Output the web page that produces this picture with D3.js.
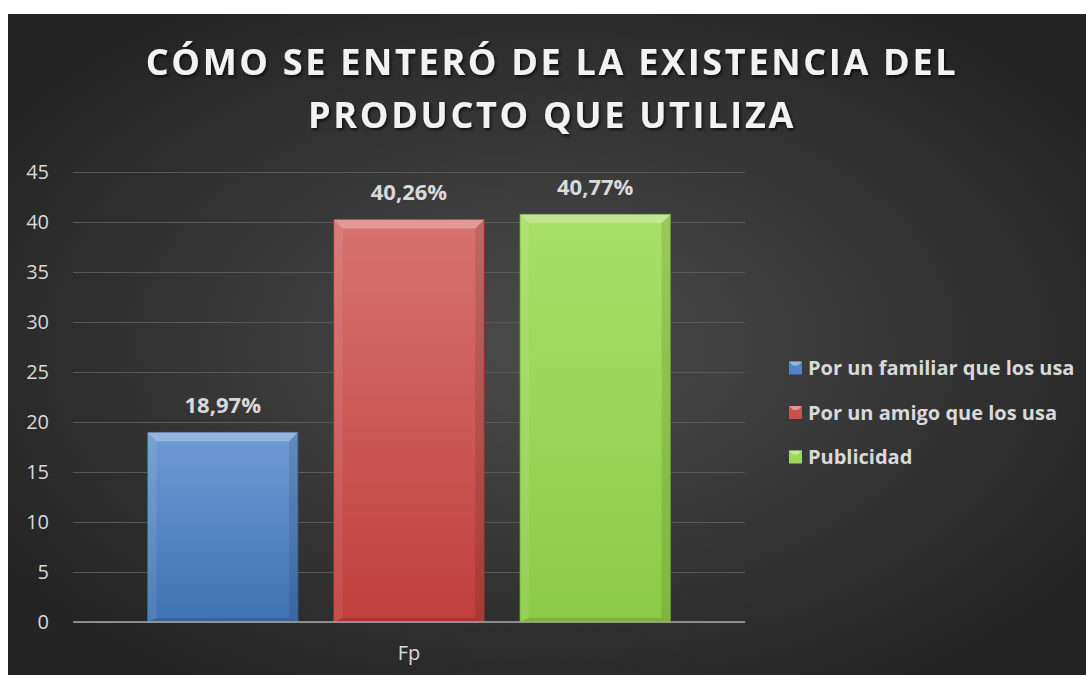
<!DOCTYPE html>
<html>
<head>
<meta charset="utf-8">
<script src="https://cdn.jsdelivr.net/npm/d3@7"></script>
<style>
body { margin: 0; background: #fff; }
svg { display: block; }
</style>
</head>
<body>
<script>
// data
var categories = ["Fp"];
var series = ["Por un familiar que los usa", "Por un amigo que los usa", "Publicidad"];
var values = [18.97, 40.26, 40.77];
var labels = ["18,97%", "40,26%", "40,77%"];
var yTicks = [0, 5, 10, 15, 20, 25, 30, 35, 40, 45];
var titleLines = ["CÓMO SE ENTERÓ DE LA EXISTENCIA DEL", "PRODUCTO QUE UTILIZA"];

var W = 1086, H = 675;
var margin = {left: 73, right: 341, top: 172, bottom: 53};
var colors = [
  {top: "#6f9bd3", mid: "#4f85c8", bot: "#3f72b4", edge: "#2f5f9c"},
  {top: "#d77370", mid: "#c9504d", bot: "#bf3f3c", edge: "#9c2f2d"},
  {top: "#a8e068", mid: "#9bd755", bot: "#8ccb47", edge: "#6fa232"}
];
var font = "'Open Sans', sans-serif";

var svg = d3.select("body").append("svg").attr("width", W).attr("height", H);
var defs = svg.append("defs");

// background gradient
var bg = defs.append("radialGradient").attr("id", "bg")
  .attr("cx", "0.5").attr("cy", "0.5").attr("r", "0.6");
bg.append("stop").attr("offset", "0%").attr("stop-color", "#4b4b4b");
bg.append("stop").attr("offset", "100%").attr("stop-color", "#242424");

colors.forEach(function (c, i) {
  var g = defs.append("linearGradient").attr("id", "bar" + i)
    .attr("x1", 0).attr("y1", 0).attr("x2", 0).attr("y2", 1);
  g.append("stop").attr("offset", "0%").attr("stop-color", c.top);
  g.append("stop").attr("offset", "100%").attr("stop-color", c.bot);
});

var shadow = defs.append("filter").attr("id", "tshadow").attr("x", "-10%").attr("y", "-20%").attr("width", "120%").attr("height", "150%");
shadow.append("feDropShadow").attr("dx", 1.5).attr("dy", 2).attr("stdDeviation", 1.5)
  .attr("flood-color", "#000").attr("flood-opacity", 0.7);

svg.append("rect").attr("x", 8).attr("y", 14).attr("width", W - 8).attr("height", H - 14)
  .attr("fill", "url(#bg)");

var x0 = d3.scaleBand().domain(categories)
  .range([margin.left, W - margin.right]).paddingOuter(0.1425).paddingInner(0);
var x1 = d3.scaleBand().domain(series)
  .range([0, x0.bandwidth()]).paddingInner(0.192).paddingOuter(0);
var y = d3.scaleLinear().domain([0, 45]).range([H - margin.bottom, margin.top]);

// gridlines
var yAxis = d3.axisLeft(y).tickValues(yTicks).tickSize(-(W - margin.right - margin.left)).tickPadding(24);
var gy = svg.append("g").attr("transform", "translate(" + margin.left + ",0)").call(yAxis);
gy.select(".domain").remove();
gy.selectAll(".tick line").attr("stroke", "#595959").attr("stroke-width", 1);
gy.selectAll(".tick text").attr("fill", "#d9d9d9").style("font-family", font).style("font-size", "20px");

// bars
var bars = svg.append("g").selectAll("g").data(values).enter().append("g")
  .attr("transform", function (d, i) { return "translate(" + (x0("Fp") + x1(series[i])) + ",0)"; });
var bw = x1.bandwidth();
var bev = 9;
bars.append("rect").attr("x", 0).attr("y", function (d) { return y(d); })
  .attr("width", bw).attr("height", function (d) { return y(0) - y(d); })
  .attr("fill", function (d, i) { return "url(#bar" + i + ")"; })
  .attr("stroke", function (d, i) { return colors[i].edge; }).attr("stroke-width", 0.8);
// bevel top
bars.append("path").attr("d", function (d) {
  var t = y(d);
  return "M0," + t + "L" + bw + "," + t + "L" + (bw - bev) + "," + (t + bev) + "L" + bev + "," + (t + bev) + "Z";
}).attr("fill", "#fff").attr("opacity", 0.28);
// bevel left
bars.append("path").attr("d", function (d) {
  var t = y(d), b = y(0);
  return "M0," + t + "L" + bev + "," + (t + bev) + "L" + bev + "," + (b - 4) + "L0," + b + "Z";
}).attr("fill", "#fff").attr("opacity", 0.08);
// bevel right
bars.append("path").attr("d", function (d) {
  var t = y(d), b = y(0);
  return "M" + bw + "," + t + "L" + (bw - bev) + "," + (t + bev) + "L" + (bw - bev) + "," + (b - 4) + "L" + bw + "," + b + "Z";
}).attr("fill", "#000").attr("opacity", 0.1);
// bevel bottom
bars.append("path").attr("d", function (d) {
  var b = y(0);
  return "M0," + b + "L" + bev + "," + (b - 4) + "L" + (bw - bev) + "," + (b - 4) + "L" + bw + "," + b + "Z";
}).attr("fill", "#000").attr("opacity", 0.12);

// value labels
bars.append("text").attr("x", bw / 2).attr("y", function (d) { return y(d) - 19; })
  .attr("text-anchor", "middle").attr("fill", "#d9d9d9")
  .style("font-family", font).style("font-size", "22px").style("font-weight", "bold")
  .text(function (d, i) { return labels[i]; });

// x axis
var xAxis = d3.axisBottom(x0).tickSize(0).tickPadding(24);
var gx = svg.append("g").attr("transform", "translate(0," + y(0) + ")").call(xAxis);
gx.select(".domain").remove();
gx.selectAll(".tick text").attr("fill", "#d9d9d9").style("font-family", font).style("font-size", "20px");
svg.append("line").attr("x1", margin.left).attr("x2", W - margin.right)
  .attr("y1", y(0)).attr("y2", y(0)).attr("stroke", "#a6a6a6").attr("stroke-width", 1.5);

// title
svg.append("g").selectAll("text").data(titleLines).enter().append("text")
  .attr("x", 552).attr("y", function (d, i) { return 75 + i * 53; })
  .attr("text-anchor", "middle").attr("fill", "#f2f2f2")
  .attr("filter", "url(#tshadow)")
  .style("font-family", font).style("font-size", "36px").style("font-weight", "bold")
  .style("letter-spacing", "2.7px")
  .text(function (d) { return d; });

// legend
var leg = svg.append("g").attr("transform", "translate(789,0)");
var li = leg.selectAll("g").data(series).enter().append("g")
  .attr("transform", function (d, i) { return "translate(0," + (368 + i * 44.5) + ")"; });
li.append("rect").attr("x", 0).attr("y", -6.5).attr("width", 13).attr("height", 13)
  .attr("fill", function (d, i) { return colors[i].mid; });
li.append("path").attr("d", "M0,-6.5L13,-6.5L9,-2.5L4,-2.5Z").attr("fill", "#fff").attr("opacity", 0.4);
li.append("text").attr("x", 19).attr("y", 0).attr("dy", "0.35em").attr("fill", "#d9d9d9")
  .style("font-family", font).style("font-size", "20px").style("font-weight", "bold")
  .text(function (d) { return d; });
</script>
</body>
</html>
